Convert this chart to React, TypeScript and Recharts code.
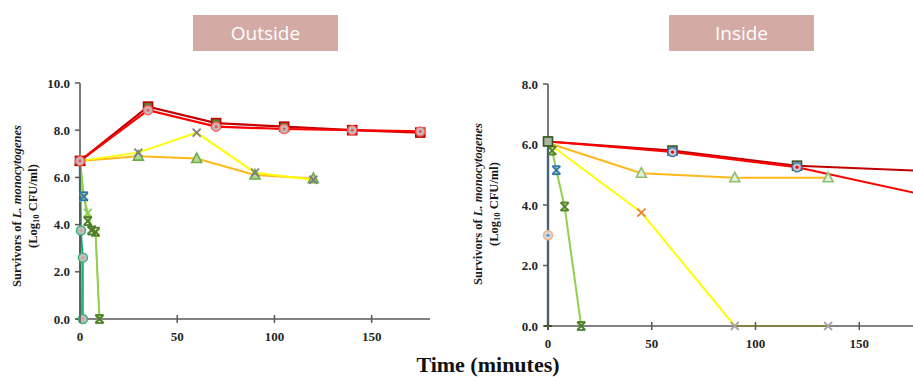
import React from 'react'
import { LineChart, Line, XAxis, YAxis } from 'recharts'

// Outside (left panel)
const outRedTimes = [0, 35, 70, 105, 140, 175]
const outDarkRed = [6.7, 9.0, 8.3, 8.15, 8.0, 7.9]
const outRed = [6.7, 8.85, 8.15, 8.05, 8.0, 7.95]
const outYellowTimes = [0, 30, 60, 90, 120]
const outYellow = [6.7, 7.05, 7.9, 6.2, 5.9]
const outOrange = [6.7, 6.9, 6.8, 6.1, 5.95]
const outGreenTimes = [0, 2, 4, 6, 8, 10]
const outGreen = [6.7, 5.15, 4.5, 3.8, 3.65, 0]
const outGreen2 = [6.7, 5.2, 4.15, 3.75, 3.7, 0]
const outCircleTimes = [0, 0.5, 1.5, 1.5]
const outCircle = [6.7, 3.75, 2.6, 0]
const outBlueTimes = [0, 0.3]
const outBlue = [6.7, 0]

// Inside (right panel)
const inRedTimes = [0, 60, 120, 180]
const inDarkRed = [6.1, 5.8, 5.3, 5.13]
const inRed = [6.1, 5.75, 5.25, 4.35]
const inYellowTimes = [0, 45, 90, 135]
const inOrange = [6.05, 5.05, 4.9, 4.9]
const inYellow = [6.05, 3.75, 0, 0]
const inGreenTimes = [0, 2, 4, 8, 16]
const inGreen = [6.1, 5.8, 5.15, 3.95, 0]
const inBlueTimes = [0, 0, 0]
const inBlue = [6.1, 3.0, 0]

const outYTicks = [0, 2, 4, 6, 8, 10]
const inYTicks = [0, 2, 4, 6, 8]
const xTicks = [0, 50, 100, 150]

const zip = (t: number[], v: number[]) => t.map((x, i) => ({ t: x, v: v[i] }))

const AXIS = '#595959'
const SERIF = '"Liberation Serif", "Times New Roman", serif'

type DotProps = { cx?: number; cy?: number; index?: number }

const square = (stroke: string, fill: string) => (p: DotProps) => {
  const { cx, cy } = p
  if (cx == null || cy == null) return <g key={p.index} />
  return <rect key={p.index} x={cx - 4.5} y={cy - 4.5} width={9} height={9} fill={fill} stroke={stroke} strokeWidth={1.6} />
}

const circle = (stroke: string, fill: string, inner?: string) => (p: DotProps) => {
  const { cx, cy } = p
  if (cx == null || cy == null) return <g key={p.index} />
  return (
    <g key={p.index}>
      <circle cx={cx} cy={cy} r={4.5} fill={fill} stroke={stroke} strokeWidth={1.5} />
      {inner && <circle cx={cx} cy={cy} r={1.6} fill={inner} />}
    </g>
  )
}

const triangle = (stroke: string, fill: string) => (p: DotProps) => {
  const { cx, cy } = p
  if (cx == null || cy == null) return <g key={p.index} />
  return (
    <polygon
      key={p.index}
      points={`${cx},${cy - 5.5} ${cx - 5},${cy + 4} ${cx + 5},${cy + 4}`}
      fill={fill}
      stroke={stroke}
      strokeWidth={1.6}
    />
  )
}

const cross = (stroke: string, bar?: boolean) => (p: DotProps) => {
  const { cx, cy } = p
  if (cx == null || cy == null) return <g key={p.index} />
  return (
    <g key={p.index} stroke={stroke} strokeWidth={1.8}>
      <line x1={cx - 4} y1={cy - 4} x2={cx + 4} y2={cy + 4} />
      <line x1={cx - 4} y1={cy + 4} x2={cx + 4} y2={cy - 4} />
      {bar && <line x1={cx - 4} y1={cy - 4} x2={cx + 4} y2={cy - 4} />}
      {bar && <line x1={cx - 4} y1={cy + 4} x2={cx + 4} y2={cy + 4} />}
    </g>
  )
}

const plus = (stroke: string) => (p: DotProps) => {
  const { cx, cy } = p
  if (cx == null || cy == null) return <g key={p.index} />
  return (
    <g key={p.index} stroke={stroke} strokeWidth={2}>
      <line x1={cx - 4} y1={cy} x2={cx + 4} y2={cy} />
      <line x1={cx} y1={cy - 4} x2={cx} y2={cy + 4} />
    </g>
  )
}

const none = (p: DotProps) => <g key={p.index} />

// x ticks cross the axis line, like the original
const XTick = (props: any) => {
  const { x, y, payload } = props
  const axisY = y - 12
  return (
    <g>
      <line x1={x} x2={x} y1={axisY - 4} y2={axisY + 4} stroke={AXIS} strokeWidth={1.5} />
      <text x={x} y={y} dy="0.75em" textAnchor="middle" fontWeight="bold" fontSize={13} fill="#262626" style={{ fontFamily: SERIF }}>
        {payload.value}
      </text>
    </g>
  )
}

const YTick = (props: any) => {
  const { x, y, payload } = props
  return (
    <text x={x} y={y} dy="0.35em" textAnchor="end" fontWeight="bold" fontSize={13} fill="#262626" style={{ fontFamily: SERIF }}>
      {Number(payload.value).toFixed(1)}
    </text>
  )
}

const boxStyle: React.CSSProperties = {
  position: 'absolute',
  top: 15,
  width: 145,
  height: 36,
  background: '#d4aaa5',
  color: '#fff',
  fontFamily: '"Open Sans", sans-serif',
  fontSize: 19,
  lineHeight: '36px',
  textAlign: 'center',
}

export default function App() {
  return (
    <div style={{ position: 'absolute', left: 0, top: 0, width: 913, height: 377, overflow: 'hidden', background: '#fff' }}>
      {/* Outside */}
      <div style={{ position: 'absolute', left: 0, top: 0 }}>
        <LineChart width={440} height={360} margin={{ top: 83, right: 10, bottom: 11, left: 0 }}>
          <XAxis
            type="number"
            dataKey="t"
            domain={[0, 180]}
            ticks={xTicks}
            height={30}
            tickSize={4}
            tickMargin={8}
            tickLine={false}
            tick={<XTick />}
            axisLine={{ stroke: AXIS, strokeWidth: 1.6 }}
          />
          <YAxis
            type="number"
            domain={[0, 10]}
            ticks={outYTicks}
            width={80}
            tickSize={5}
            tickMargin={5}
            tick={<YTick />}
            tickLine={{ stroke: AXIS, strokeWidth: 1.5 }}
            axisLine={{ stroke: AXIS, strokeWidth: 1.6 }}
          />
          <Line data={zip(outBlueTimes, outBlue)} dataKey="v" stroke="#2e75b6" strokeWidth={2.4} dot={plus('#375623')} isAnimationActive={false} />
          <Line data={zip(outCircleTimes, outCircle)} dataKey="v" stroke="#00b050" strokeWidth={1.6} dot={circle('#3cb371', '#bfbfbf', '#d9a0a0')} isAnimationActive={false} />
          <Line data={zip(outGreenTimes, outGreen)} dataKey="v" stroke="#92d050" strokeWidth={2} dot={cross('#8fd14f')} isAnimationActive={false} />
          <Line data={zip(outGreenTimes, outGreen2)} dataKey="v" stroke="#92d050" strokeWidth={1.5} dot={(p: DotProps) => cross(p.index === 1 ? '#2e75b6' : '#4f7d2a', true)(p)} isAnimationActive={false} />
          <Line data={zip(outYellowTimes, outOrange)} dataKey="v" stroke="#ffb81c" strokeWidth={2} dot={triangle('#70ad47', '#b5d69a')} isAnimationActive={false} />
          <Line data={zip(outYellowTimes, outYellow)} dataKey="v" stroke="#ffff00" strokeWidth={2} dot={cross('#7f7f7f')} isAnimationActive={false} />
          <Line data={zip(outRedTimes, outDarkRed)} dataKey="v" stroke="#c00000" strokeWidth={2.2} dot={square('#c00000', '#548235')} isAnimationActive={false} />
          <Line data={zip(outRedTimes, outRed)} dataKey="v" stroke="#ff0000" strokeWidth={2.2} dot={circle('#ff6060', '#bfbfbf', '#e06060')} isAnimationActive={false} />
        </LineChart>
      </div>

      {/* Inside: axis runs past the right edge of the picture */}
      <div style={{ position: 'absolute', left: 468, top: 0 }}>
        <LineChart width={505} height={367} margin={{ top: 84, right: 10, bottom: 11, left: 0 }}>
          <XAxis
            type="number"
            dataKey="t"
            domain={[0, 200]}
            ticks={xTicks}
            height={30}
            tickSize={4}
            tickMargin={8}
            tickLine={false}
            tick={<XTick />}
            axisLine={{ stroke: AXIS, strokeWidth: 1.6 }}
          />
          <YAxis
            type="number"
            domain={[0, 8]}
            ticks={inYTicks}
            width={80}
            tickSize={5}
            tickMargin={5}
            tick={<YTick />}
            tickLine={{ stroke: AXIS, strokeWidth: 1.5 }}
            axisLine={{ stroke: AXIS, strokeWidth: 1.6 }}
          />
          <Line data={zip(inBlueTimes, inBlue)} dataKey="v" stroke="#2e75b6" strokeWidth={2.4} dot={(p: DotProps) => (p.index === 1 ? circle('#f4b183', '#d9d9d9', '#5b9bd5')(p) : plus('#375623')(p))} isAnimationActive={false} />
          <Line data={zip(inGreenTimes, inGreen)} dataKey="v" stroke="#92d050" strokeWidth={2} dot={(p: DotProps) => cross(p.index === 2 ? '#2e75b6' : '#4f7d2a', true)(p)} isAnimationActive={false} />
          <Line data={zip(inYellowTimes, inYellow)} dataKey="v" stroke="#ffff00" strokeWidth={2} dot={(p: DotProps) => (p.index === 0 ? none(p) : cross(p.index === 1 ? '#ed7d31' : '#a5a5a5')(p))} isAnimationActive={false} />
          <Line data={zip(inYellowTimes, inOrange)} dataKey="v" stroke="#ffb81c" strokeWidth={2} dot={(p: DotProps) => (p.index === 0 ? none(p) : triangle('#8fc16f', '#e2efda')(p))} isAnimationActive={false} />
          <Line data={zip(inRedTimes, inDarkRed)} dataKey="v" stroke="#c00000" strokeWidth={2} dot={(p: DotProps) => (p.index === 3 ? none(p) : square('#375623', '#a9b5a0')(p))} isAnimationActive={false} />
          <Line data={zip(inRedTimes, inRed)} dataKey="v" stroke="#ff0000" strokeWidth={2} dot={(p: DotProps) => (p.index === 3 || p.index === 0 ? none(p) : circle('#4472c4', '#c9c9c9', '#ff0000')(p))} isAnimationActive={false} />
        </LineChart>
      </div>

      {/* titles and axis labels */}
      <div style={{ ...boxStyle, left: 193 }}>Outside</div>
      <div style={{ ...boxStyle, left: 669 }}>Inside</div>
      <svg width={913} height={377} style={{ position: 'absolute', left: 0, top: 0, pointerEvents: 'none' }}>
        {[
          { x1: 17, x2: 33, y: 206 },
          { x1: 478, x2: 494, y: 204 },
        ].map((l, i) => (
          <g key={i} fontWeight="bold" fontSize={12.5} fill="#1a1a1a" textAnchor="middle" style={{ fontFamily: SERIF }}>
            <text transform={`translate(${l.x1},${l.y}) rotate(-90)`} dominantBaseline="central">
              Survivors of <tspan fontStyle="italic">L. monocytogenes</tspan>
            </text>
            <text transform={`translate(${l.x2},${l.y}) rotate(-90)`} dominantBaseline="central">
              (Log<tspan fontSize={8.5} dy={3}>10</tspan>
              <tspan dy={-3}> CFU/ml)</tspan>
            </text>
          </g>
        ))}
        <text x={488} y={372} textAnchor="middle" fontWeight="bold" fontSize={22} fill="#111" style={{ fontFamily: SERIF }}>
          Time (minutes)
        </text>
      </svg>
    </div>
  )
}
